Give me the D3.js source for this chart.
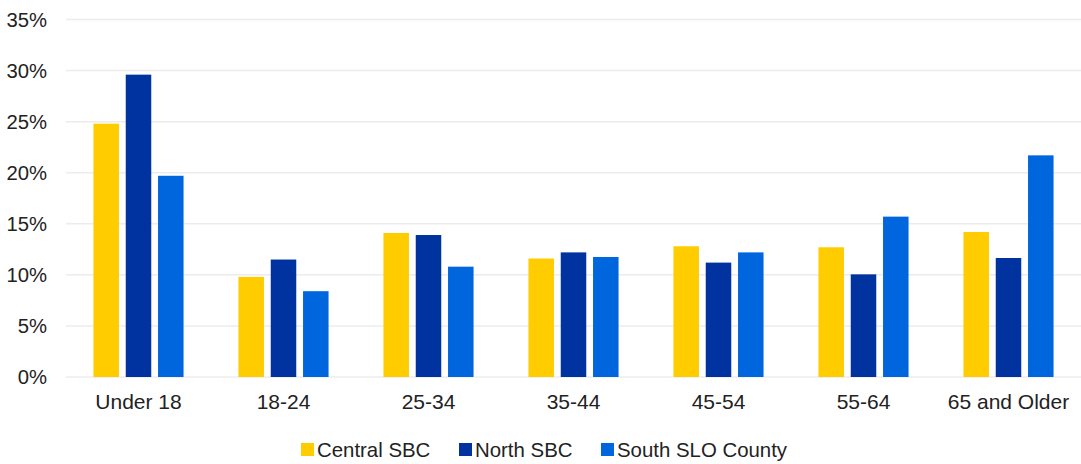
<!DOCTYPE html>
<html>
<head>
<meta charset="utf-8">
<script src="https://cdn.jsdelivr.net/npm/d3@7"></script>
<style>
body { margin: 0; background: #fff; }
text { font-family: "Liberation Sans", Arial, sans-serif; fill: #222; }
</style>
</head>
<body>
<svg id="chart"></svg>
<script>
const categories = ["Under 18", "18-24", "25-34", "35-44", "45-54", "55-64", "65 and Older"];
const series = ["Central SBC", "North SBC", "South SLO County"];
const centralSBC = [24.8, 9.8, 14.1, 11.6, 12.8, 12.7, 14.2];
const northSBC = [29.6, 11.5, 13.9, 12.2, 11.2, 10.05, 11.65];
const southSLO = [19.7, 8.4, 10.8, 11.75, 12.2, 15.7, 21.7];
const yTicks = [0, 5, 10, 15, 20, 25, 30, 35];
const colors = ["#FFCC00", "#0033A0", "#0066DD"];

const values = [centralSBC, northSBC, southSLO];

const svg = d3.select("#chart")
  .attr("width", 1081)
  .attr("height", 464);

const mLeft = 66, mRight = 1081, mTop = 19.5, mBottom = 377;

const x0 = d3.scaleBand()
  .domain(categories)
  .range([mLeft, mRight]);
const x1 = d3.scaleBand()
  .domain(series)
  .range([0, x0.bandwidth()])
  .paddingInner(0.21)
  .paddingOuter(0.85);
const y = d3.scaleLinear()
  .domain([0, 35])
  .range([mBottom, mTop]);

// gridlines
svg.append("g")
  .selectAll("line")
  .data(yTicks)
  .enter()
  .append("line")
  .attr("x1", mLeft)
  .attr("x2", mRight)
  .attr("y1", d => y(d))
  .attr("y2", d => y(d))
  .style("stroke", "#ececec")
  .style("stroke-width", 1.5);

// y axis labels
const yAxis = svg.append("g")
  .attr("transform", "translate(" + mLeft + ",0)")
  .call(d3.axisLeft(y).tickValues(yTicks).tickFormat(d => d + "%").tickSize(0).tickPadding(19));
yAxis.select(".domain").remove();
yAxis.selectAll("text")
  .style("font-size", "20.3px")
  .style("font-family", "'Liberation Sans', Arial, sans-serif")
  .style("fill", "#222");

// bars
const groups = svg.append("g")
  .selectAll("g")
  .data(categories)
  .enter()
  .append("g")
  .attr("transform", d => "translate(" + x0(d) + ",0)");

groups.selectAll("rect")
  .data((d, i) => series.map((s, j) => ({s: s, v: values[j][i], c: colors[j]})))
  .enter()
  .append("rect")
  .attr("x", d => x1(d.s))
  .attr("y", d => y(d.v))
  .attr("width", x1.bandwidth())
  .attr("height", d => mBottom - y(d.v))
  .style("fill", d => d.c);

// x axis labels
const xAxis = svg.append("g")
  .attr("transform", "translate(0," + mBottom + ")")
  .call(d3.axisBottom(x0).tickSize(0).tickPadding(17));
xAxis.select(".domain").remove();
xAxis.selectAll("text")
  .style("font-size", "21px")
  .style("font-family", "'Liberation Sans', Arial, sans-serif")
  .style("fill", "#222");

// legend
const legendX = [301, 459, 601];
const legend = svg.append("g")
  .selectAll("g")
  .data(series)
  .enter()
  .append("g")
  .attr("transform", (d, i) => "translate(" + legendX[i] + ",443)");
legend.append("rect")
  .attr("width", 13)
  .attr("height", 13)
  .style("fill", (d, i) => colors[i]);
legend.append("text")
  .attr("x", 16)
  .attr("y", 14)
  .style("font-size", "20.4px")
  .text(d => d);
</script>
</body>
</html>
